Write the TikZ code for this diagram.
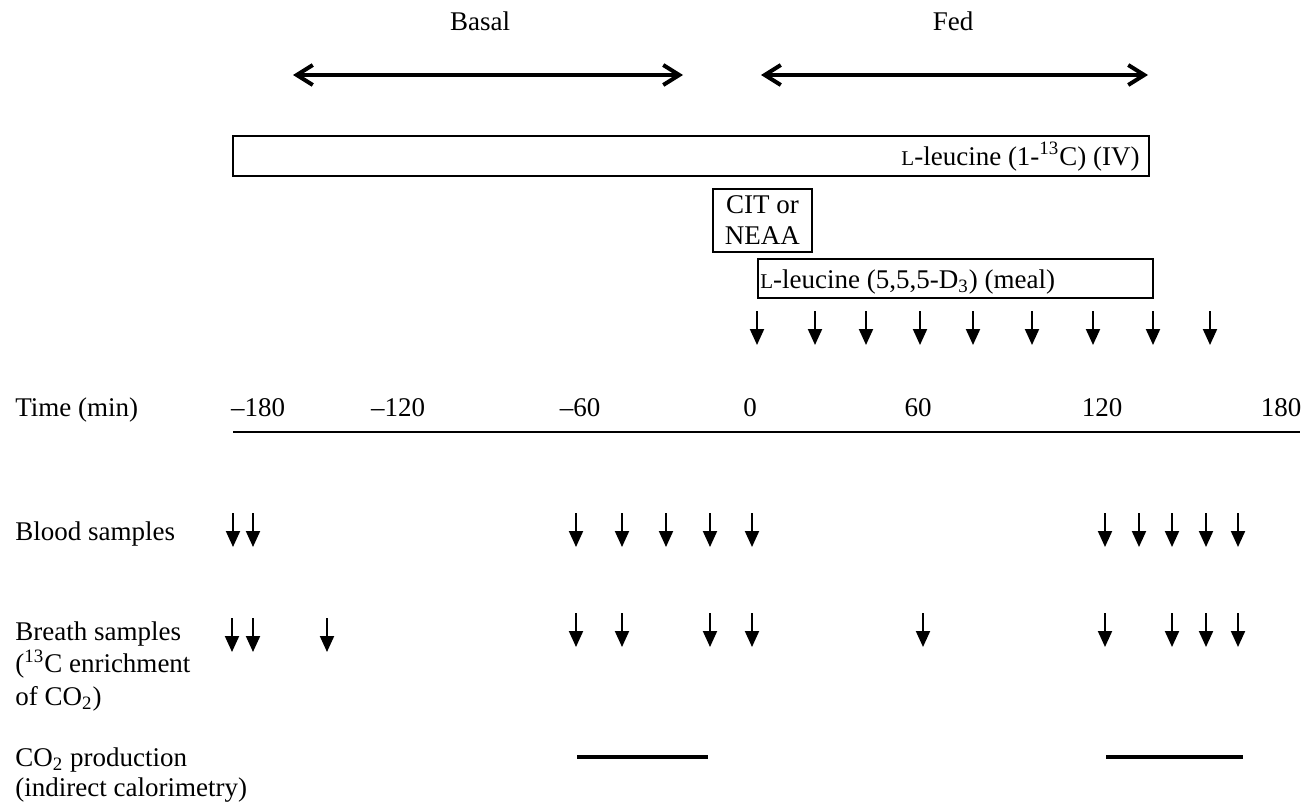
\documentclass[tikz,border=0pt]{standalone}
\usepackage{fontspec}
\setmainfont{Liberation Serif}
\usetikzlibrary{arrows.meta}

\newcommand{\smL}{{\fontsize{10.5}{12}\selectfont L}}

\tikzset{
  sample/.style={line width=1pt, -{Triangle[width=7pt,length=8pt]}},
  phase/.style={line width=2pt, {Straight Barb[length=8pt,width=10pt]}-{Straight Barb[length=8pt,width=10pt]}},
  infusion/.style={draw, line width=0.9pt, inner sep=0pt},
  rowlabel/.style={anchor=base west, align=left, inner sep=0pt},
  tick/.style={anchor=base, inner sep=0pt},
  calor/.style={line width=1.6pt}
}

\begin{document}
\begin{tikzpicture}[x=0.5pt, y=-0.5pt, font=\fontsize{13.5}{16.25}\selectfont]
\useasboundingbox (0,0) rectangle (1305,808);

% phases
\node[tick] (basal) at (480,31) {Basal};
\node[tick] (fed) at (953,31) {Fed};
\coordinate (basalL) at (293,75);
\coordinate (basalR) at (683,75);
\coordinate (fedL) at (761,75);
\coordinate (fedR) at (1148,75);
\draw[phase] (basalL) -- (basalR);
\draw[phase] (fedL) -- (fedR);

% infusions
\node[infusion, anchor=north west, minimum width=458pt, minimum height=20pt] (iv) at (232,135) {};
\node[anchor=base east, inner sep=0pt] (ivtext) at (1140,165) {\smL-leucine (1-\textsuperscript{13}C) (IV)};
\node[infusion, anchor=north west, minimum width=49.5pt, minimum height=31.5pt] (cit) at (712,188) {};
\node[align=center, inner sep=0pt, font=\fontsize{13.5}{15.5}\selectfont] (cittext) at (cit.center) {CIT or\\NEAA};
\node[infusion, anchor=north west, minimum width=197.5pt, minimum height=19.5pt] (meal) at (757,258) {};
\node[anchor=base west, inner sep=0pt] (mealtext) at (760,288) {\smL-leucine (5,5,5-D\textsubscript{3}) (meal)};

% meal samples
\foreach \x [count=\i] in {757,815,866,920,973,1032,1093,1153,1210} {
  \coordinate (m\i s) at (\x,311);
  \coordinate (m\i e) at (\x,345);
  \draw[sample] (m\i s) -- (m\i e);
}

% time axis
\node[rowlabel] (time) at (15,416) {Time (min)};
\foreach \x/\t in {258/--180,398/--120,580/--60,750/0,918/60,1102/120,1281/180} {
  \node[tick] (t\t) at (\x,416) {\t};
}
\coordinate (axisL) at (233,432);
\coordinate (axisR) at (1300,432);
\draw[line width=0.6pt] (axisL) -- (axisR);

% blood samples
\node[rowlabel] (blood) at (15,540) {Blood samples};
\foreach \x [count=\i] in {233,253,576,622,666,710,752,1105,1139,1172,1206,1238} {
  \coordinate (b\i s) at (\x,513);
  \coordinate (b\i e) at (\x,547);
  \draw[sample] (b\i s) -- (b\i e);
}

% breath samples
\node[rowlabel] (breath) at (15,705) {Breath samples\\(\textsuperscript{13}C enrichment\\of CO\textsubscript{2})};
\foreach \x [count=\i] in {232,253,327} {
  \coordinate (r\i s) at (\x,618);
  \coordinate (r\i e) at (\x,652);
  \draw[sample] (r\i s) -- (r\i e);
}
\foreach \x [count=\i] in {576,622,710,752,923,1105,1172,1206,1238} {
  \coordinate (q\i s) at (\x,613);
  \coordinate (q\i e) at (\x,647);
  \draw[sample] (q\i s) -- (q\i e);
}

% indirect calorimetry
\node[rowlabel, font=\fontsize{13.5}{15}\selectfont] (co2) at (15,796) {CO\textsubscript{2} production\\(indirect calorimetry)};
\coordinate (c1s) at (577,757);
\coordinate (c1e) at (708,757);
\coordinate (c2s) at (1106,757);
\coordinate (c2e) at (1243,757);
\draw[calor] (c1s) -- (c1e);
\draw[calor] (c2s) -- (c2e);
\end{tikzpicture}
\end{document}
